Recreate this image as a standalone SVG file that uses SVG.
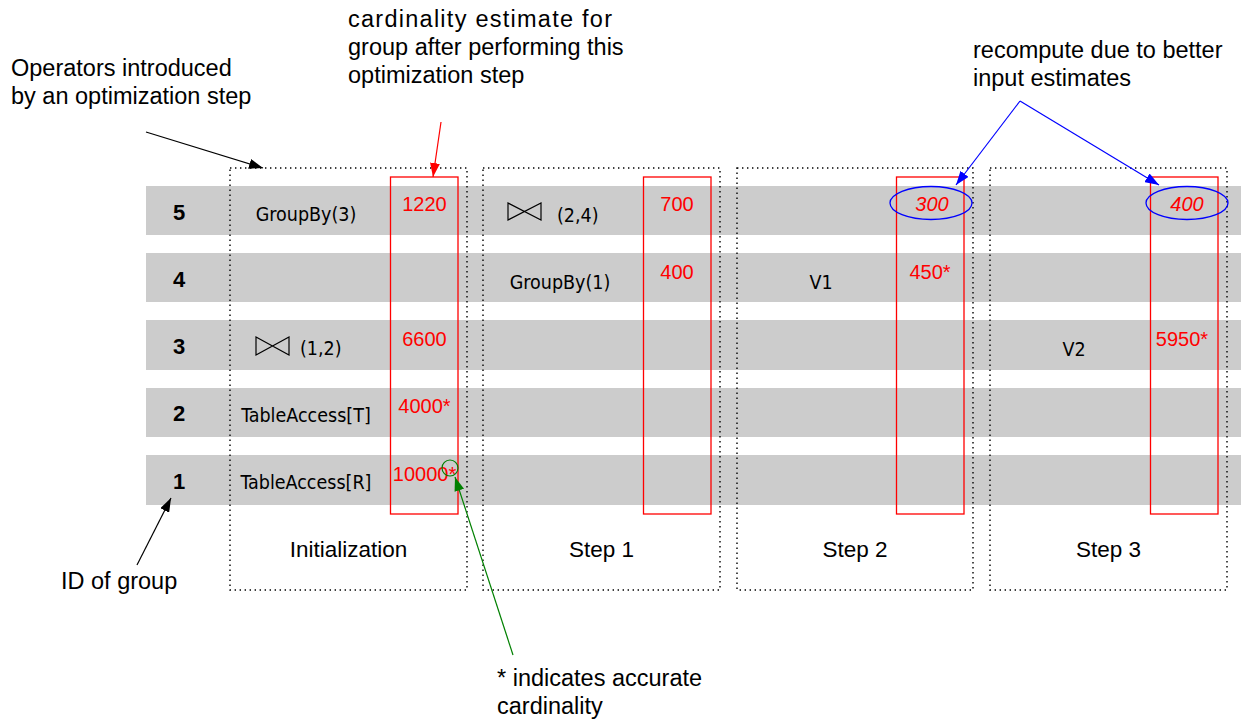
<svg xmlns="http://www.w3.org/2000/svg" width="1241" height="721" viewBox="0 0 1241 721">
<style>
.band{fill:#cccccc}
.step{fill:none;stroke:#000;stroke-width:1.4;stroke-dasharray:1.4 3.6}
.est{fill:none;stroke:#ff0000;stroke-width:1.3}
.num{font-family:"Liberation Sans",Arial,sans-serif;font-size:20px;fill:#ff0000;text-anchor:middle}
.it{font-style:italic}
.op{font-family:"DejaVu Sans Condensed","Liberation Sans",sans-serif;font-size:19.5px;fill:#000;text-anchor:middle}
.opl{font-family:"DejaVu Sans Condensed","Liberation Sans",sans-serif;font-size:19.5px;fill:#000}
.gid{font-family:"Liberation Sans",Arial,sans-serif;font-size:22px;font-weight:bold;fill:#000;text-anchor:middle}
.lbl{font-family:"Liberation Sans",Arial,sans-serif;font-size:23.5px;fill:#000}
.cap{font-family:"Liberation Sans",Arial,sans-serif;font-size:22.5px;fill:#000;text-anchor:middle}
.join{fill:none;stroke:#000;stroke-width:1.2}
</style>
<defs>
<marker id="ak" markerUnits="userSpaceOnUse" markerWidth="14" markerHeight="10" refX="14" refY="5" orient="auto"><path d="M0,0 L14,5 L0,10 z" fill="#000"/></marker>
<marker id="ar" markerUnits="userSpaceOnUse" markerWidth="14" markerHeight="10" refX="14" refY="5" orient="auto"><path d="M0,0 L14,5 L0,10 z" fill="#ff0000"/></marker>
<marker id="ab" markerUnits="userSpaceOnUse" markerWidth="14" markerHeight="10" refX="14" refY="5" orient="auto"><path d="M0,0 L14,5 L0,10 z" fill="#0000ff"/></marker>
<marker id="ag" markerUnits="userSpaceOnUse" markerWidth="14" markerHeight="10" refX="14" refY="5" orient="auto"><path d="M0,0 L14,5 L0,10 z" fill="#008000"/></marker>
</defs>
<rect width="1241" height="721" fill="#fff"/>
<g id="bands">
<rect class="band" x="146" y="186" width="1095" height="49"/>
<rect class="band" x="146" y="253" width="1095" height="49"/>
<rect class="band" x="146" y="320" width="1095" height="50"/>
<rect class="band" x="146" y="388" width="1095" height="49"/>
<rect class="band" x="146" y="455" width="1095" height="50"/>
</g>
<g id="group-ids">
<text class="gid" x="179" y="220">5</text>
<text class="gid" x="179" y="287">4</text>
<text class="gid" x="179" y="354">3</text>
<text class="gid" x="179" y="421">2</text>
<text class="gid" x="179" y="489">1</text>
</g>
<g id="step-init">
<rect class="step" x="230" y="168" width="237" height="422"/>
<rect class="est" x="390.5" y="177" width="67.5" height="337"/>
<text class="op" x="306" y="221">GroupBy(3)</text>
<path class="join" d="M256,337 L256,355 L289,337 L289,355 Z"/>
<text class="opl" x="300" y="355">(1,2)</text>
<text class="op" x="306" y="422">TableAccess[T]</text>
<text class="op" x="306" y="489">TableAccess[R]</text>
<text class="num" x="424.5" y="211">1220</text>
<text class="num" x="424.5" y="346">6600</text>
<text class="num" x="424.5" y="413">4000*</text>
<text class="num" x="424.5" y="481">10000*</text>
<text class="cap" x="348.5" y="557">Initialization</text>
</g>
<g id="step-1">
<rect class="step" x="483" y="168" width="237" height="422"/>
<rect class="est" x="643.5" y="177" width="67.5" height="337"/>
<path class="join" d="M508,203 L508,220 L541,203 L541,220 Z"/>
<text class="opl" x="557" y="222">(2,4)</text>
<text class="op" x="560" y="289">GroupBy(1)</text>
<text class="num" x="677" y="211">700</text>
<text class="num" x="677" y="279">400</text>
<text class="cap" x="601.5" y="557">Step 1</text>
</g>
<g id="step-2">
<rect class="step" x="737" y="168" width="236" height="422"/>
<rect class="est" x="896.5" y="177" width="67.5" height="337"/>
<text class="op" x="821" y="289">V1</text>
<text class="num it" x="932" y="211">300</text>
<text class="num" x="930" y="279">450*</text>
<text class="cap" x="855" y="557">Step 2</text>
</g>
<g id="step-3">
<rect class="step" x="990" y="168" width="237" height="422"/>
<rect class="est" x="1150.5" y="177" width="67.5" height="337"/>
<text class="op" x="1074" y="356">V2</text>
<text class="num it" x="1187" y="211">400</text>
<text class="num" x="1182" y="346">5950*</text>
<text class="cap" x="1108.5" y="557">Step 3</text>
</g>
<g id="annotations">
<text class="lbl" x="11" y="76">Operators introduced</text>
<text class="lbl" x="11" y="104">by an optimization step</text>
<text class="lbl" x="348" y="27" textLength="264" lengthAdjust="spacing">cardinality estimate for</text>
<text class="lbl" x="348" y="55">group after performing this</text>
<text class="lbl" x="348" y="83">optimization step</text>
<text class="lbl" x="973" y="58">recompute due to better</text>
<text class="lbl" x="973" y="86">input estimates</text>
<text class="lbl" x="61" y="589">ID of group</text>
<text class="lbl" x="497" y="686">* indicates accurate</text>
<text class="lbl" x="497" y="714">cardinality</text>
</g>
<g id="connectors">
<line x1="146" y1="132" x2="263" y2="168" stroke="#000" stroke-width="1.2" marker-end="url(#ak)"/>
<line x1="441" y1="122" x2="433" y2="177" stroke="#ff0000" stroke-width="1.2" marker-end="url(#ar)"/>
<ellipse cx="931" cy="203" rx="41" ry="16.5" fill="none" stroke="#0000ff" stroke-width="1.3"/>
<ellipse cx="1187" cy="203" rx="41" ry="16.5" fill="none" stroke="#0000ff" stroke-width="1.3"/>
<line x1="1020" y1="101" x2="956" y2="185" stroke="#0000ff" stroke-width="1.2" marker-end="url(#ab)"/>
<line x1="1020" y1="101" x2="1159" y2="185" stroke="#0000ff" stroke-width="1.2" marker-end="url(#ab)"/>
<circle cx="450" cy="468" r="8" fill="none" stroke="#008000" stroke-width="1.2"/>
<line x1="513" y1="655" x2="455" y2="477" stroke="#008000" stroke-width="1.2" marker-end="url(#ag)"/>
<line x1="137" y1="565" x2="171" y2="498" stroke="#000" stroke-width="1.2" marker-end="url(#ak)"/>
</g>
</svg>
